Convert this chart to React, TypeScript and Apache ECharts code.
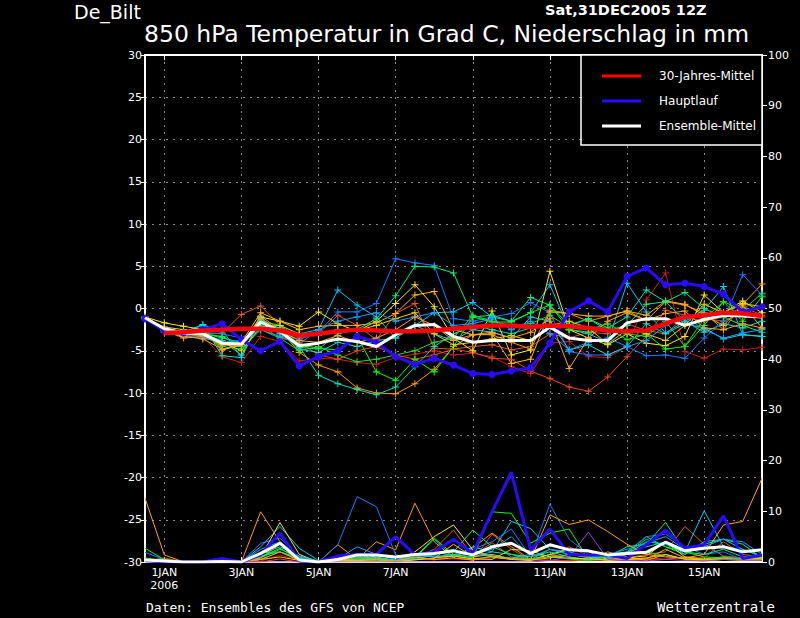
import React, { useEffect, useRef } from "react";
import * as echarts from "echarts";

const FONT = "'DejaVu Sans', sans-serif";
const MONO = "'DejaVu Sans Mono', monospace";

// 12-hourly time steps, 31DEC2005 12Z .. 16JAN2006 12Z
const times = [
  "31DEC12Z", "01JAN00Z", "01JAN12Z", "02JAN00Z", "02JAN12Z", "03JAN00Z", "03JAN12Z", "04JAN00Z", "04JAN12Z", "05JAN00Z", "05JAN12Z",
  "06JAN00Z", "06JAN12Z", "07JAN00Z", "07JAN12Z", "08JAN00Z", "08JAN12Z", "09JAN00Z", "09JAN12Z", "10JAN00Z", "10JAN12Z", "11JAN00Z",
  "11JAN12Z", "12JAN00Z", "12JAN12Z", "13JAN00Z", "13JAN12Z", "14JAN00Z", "14JAN12Z", "15JAN00Z", "15JAN12Z", "16JAN00Z", "16JAN12Z",
];

const tickLabels: Record<string, string> = {
  "01JAN00Z": "1JAN\n2006",
  "03JAN00Z": "3JAN",
  "05JAN00Z": "5JAN",
  "07JAN00Z": "7JAN",
  "09JAN00Z": "9JAN",
  "11JAN00Z": "11JAN",
  "13JAN00Z": "13JAN",
  "15JAN00Z": "15JAN",
};

// 850 hPa temperature, ensemble members (deg C)
const t01 = [-1.1, -2.6, -3.1, -3.3, -5.7, -6.4, -3.3, -3.9, -6.2, -5.9, -6.0,
  -6.4, -6.6, -5.8, -5.4, -5.0, -5.5, -5.3, -5.7, -6.9, -7.7, -4.1,
  -3.9, -5.7, -5.8, -4.5, 1.0, 4.2, -5.1, -5.9, -4.8, -4.9, -4.6];
const t02 = [-1.2, -2.7, -3.2, -3.0, -2.9, -0.7, 0.3, -2.0, -3.5, -3.0, -0.8,
  -2.0, -3.7, -0.6, 0.6, -4.7, -4.8, -4.5, -4.3, -4.9, -4.5, -3.0,
  -3.5, -2.8, -3.0, -1.8, -2.6, -3.0, -1.0, -1.5, -1.0, 0.2, -0.8];
const t03 = [-1.1, -2.5, -2.9, -3.4, -4.0, -4.5, -2.0, -3.5, -4.0, -5.5, -6.0,
  -5.0, -4.5, -5.5, -6.0, -5.5, -4.8, -5.2, -5.9, -6.0, -7.4, -8.3,
  -9.3, -9.8, -8.1, -5.7, -3.3, -0.2, -0.8, -1.2, -1.5, -0.5, -1.0];
const t04 = [-1.1, -2.6, -3.5, -3.3, -4.3, -4.5, -0.9, -2.5, -5.2, -6.7, -7.5,
  -9.4, -10.0, -10.1, -8.9, -7.2, -4.5, -3.1, -3.1, -4.0, -4.8, -0.2,
  -0.6, -1.5, -0.9, -0.3, -1.4, 0.8, 0.4, -0.5, -2.5, 0.5, 2.9];
const t05 = [-1.0, -2.3, -2.8, -1.9, -5.6, -5.8, -1.2, -3.0, -4.5, -7.9, -8.9,
  -9.6, -10.2, -9.3, -6.9, -4.5, -3.0, -2.0, -2.5, -3.0, -2.3, -2.0,
  -2.0, -1.2, -2.3, -1.0, 2.2, 0.8, -1.5, -2.8, -1.8, -2.3, -1.5];
const t06 = [-1.2, -2.5, -3.0, -2.8, -3.0, -3.5, -2.0, -2.7, -3.7, -2.8, -0.4,
  -0.4, 0.6, 5.9, 5.4, 5.1, -1.2, -1.5, -1.0, -0.6, 0.7, -0.5,
  -5.1, -5.5, -5.5, -4.5, -5.6, -5.5, -5.9, -3.5, -1.5, 4.0, 1.6];
const t07 = [-1.1, -2.4, -2.8, -2.0, -2.5, -5.8, -1.0, -3.0, -3.0, -2.5, 2.2,
  0.4, -1.0, -3.5, -2.0, -0.5, -0.4, 0.7, -1.0, -1.5, -0.5, 2.8,
  -2.5, -3.0, -4.0, 3.0, -0.4, -2.9, -1.5, -0.2, 2.6, -3.1, -3.3];
const t08 = [-1.0, -1.7, -2.1, -2.5, -4.9, -4.3, -1.0, -1.5, -2.1, -0.4, -1.8,
  -2.7, -1.5, 0.6, 2.8, 0.2, -3.5, -5.0, -0.3, -5.5, -4.9, 4.4,
  -2.5, -3.5, -4.3, -3.0, -4.1, -4.4, -3.3, 1.6, -0.5, 0.9, -0.5];
const t09 = [-1.1, -2.6, -3.0, -3.2, -4.3, -4.0, -0.5, -1.5, -2.5, -2.1, -2.0,
  -2.0, -1.7, -0.6, 1.6, 2.0, -2.5, -3.1, -3.0, -6.5, -6.0, -0.4,
  -0.6, -0.9, -0.9, -0.3, -0.8, 0.9, 0.5, -0.8, -2.0, 0.4, -2.3];
const t10 = [-1.1, -2.4, -3.0, -3.0, -3.3, -4.5, -1.5, -2.0, -4.3, -4.7, -4.9,
  -3.3, -7.5, -8.5, -6.0, -7.5, -4.5, -1.0, -1.6, -1.6, -0.5, 0.4,
  -2.5, -2.8, -2.3, -3.7, -3.0, -4.8, -4.5, -2.0, 0.8, -1.5, 1.4];
const t11 = [-1.2, -2.6, -3.1, -2.9, -3.5, -4.0, -1.8, -2.3, -4.6, -4.8, -3.0,
  -2.5, -1.2, 1.5, 5.0, 4.9, 4.2, -1.0, -0.8, -1.5, 1.3, 0.4,
  -2.0, -1.2, -2.6, -2.0, 0.5, 0.8, 1.9, 0.0, -1.0, -2.0, -2.8];
const t12 = [-1.1, -2.5, -2.9, -3.0, -3.8, -5.5, -1.4, -2.8, -4.8, -5.2, -4.0,
  -4.5, -3.8, -3.5, -2.0, -3.0, -3.8, -2.5, -2.8, -3.5, -1.0, -1.5,
  -4.9, -4.3, -5.5, -4.5, -1.8, -3.0, -1.8, -2.3, -3.6, -3.1, -3.3];
const t13 = [-1.1, -2.5, -3.0, -3.1, -4.5, -4.8, -2.5, -3.5, -5.0, -4.5, -5.5,
  -6.3, -6.0, -5.5, -5.0, -4.0, -3.5, -0.8, -1.5, -2.0, -1.8, -0.8,
  -2.3, -2.5, -1.8, -3.0, -3.3, -1.5, -4.5, -1.2, 0.8, -0.2, 1.8];
const t14 = [-1.1, -2.2, -2.5, -2.8, -4.0, -5.0, -2.2, -2.0, -3.0, -3.2, -2.5,
  -2.6, -2.0, -1.2, -0.5, -3.0, -4.3, -4.0, -3.6, -3.2, -3.8, -2.0,
  -1.5, -2.3, -4.2, -2.5, -3.0, -3.8, -2.0, 0.5, -0.5, 0.6, 0.2];
const t15 = [-1.2, -2.7, -3.2, -3.5, -4.0, -3.8, -2.5, -3.3, -4.2, -2.5, -1.5,
  -1.0, -0.5, -1.5, -1.0, -0.5, -2.0, -1.8, -1.2, -2.5, -1.5, -3.0,
  -4.9, -4.0, -3.5, -4.5, -3.8, -2.0, -1.0, -2.5, -3.5, -2.9, -2.5];
const t16 = [-1.1, -2.8, -3.3, -3.6, -4.8, -4.3, -1.2, -2.6, -3.8, -4.0, -3.2,
  -4.0, -3.5, -2.5, -1.0, -2.0, -3.8, -3.1, -2.8, -3.5, -2.8, -1.2,
  -7.1, -3.5, -1.5, -0.5, -1.4, -0.6, -0.3, -2.3, -2.5, -1.8, -2.3];

// 12-hour precipitation, ensemble members (mm)
const p01 = [0.3, 0.2, 0, 0, 0, 0, 0.2, 1.4, 0.3, 0, 0.3,
  0.6, 0.4, 0.2, 0.8, 0.5, 0.6, 0.4, 0.8, 0.6, 0.5, 0.4,
  0.3, 1.0, 0.4, 0.3, 0.5, 0.6, 0.8, 0.4, 0.6, 0.3, 0.4];
const p02 = [0.5, 0.4, 0, 0, 0, 0, 0.5, 2.0, 0.5, 0, 0.8,
  1.5, 0.6, 0.3, 1.0, 2.5, 6.3, 1.2, 3.8, 1.0, 0.6, 1.0,
  3.0, 1.2, 0.5, 0.8, 1.5, 2.0, 7.0, 3.5, 1.2, 0.8, 0.5];
const p03 = [0.2, 0.8, 0, 0, 0, 0, 0, 0.6, 0, 0, 0.2,
  0.5, 0.5, 0, 0.8, 0.4, 1.2, 0.3, 5.5, 2.5, 0.4, 0.3,
  0.2, 0.4, 0.3, 0.6, 0.8, 0.5, 1.0, 0.8, 4.0, 1.5, 1.0];
const p04 = [0.2, 0.5, 0, 0, 0, 0, 9.9, 4.0, 0.4, 0, 3.4,
  0.5, 4.0, 2.4, 11.6, 4.0, 0.8, 2.8, 5.7, 3.0, 0.5, 1.5,
  0.8, 0.5, 2.0, 1.0, 0.3, 1.5, 0.5, 0.2, 0.5, 0.3, 0.5];
const p05 = [0.3, 0.2, 0, 0, 0, 0, 0.8, 2.5, 1.0, 0, 0.5,
  1.5, 1.0, 0.3, 0.8, 4.5, 1.0, 3.0, 2.0, 1.5, 0.5, 2.5,
  1.5, 1.0, 0.8, 2.0, 5.0, 3.0, 1.5, 3.5, 4.5, 3.5, 0.8];
const p06 = [1.9, 0.5, 0, 0, 0.7, 0, 3.7, 4.7, 1.0, 0, 3.4,
  12.9, 10.9, 1.4, 0.5, 0.8, 1.5, 2.5, 4.0, 6.5, 1.0, 11.4,
  4.5, 1.5, 0.5, 2.0, 5.0, 5.5, 3.0, 1.5, 2.0, 0.5, 0.3];
const p07 = [0.2, 0.1, 0, 0, 0, 0, 3.0, 7.0, 2.7, 0.3, 0.5,
  1.0, 0.5, 0.2, 1.5, 1.0, 1.5, 1.0, 2.0, 8.0, 6.6, 2.5,
  2.0, 1.0, 0.8, 1.5, 4.0, 3.5, 2.0, 10.1, 3.0, 2.5, 1.0];
const p08 = [0.3, 0.2, 0, 0, 0, 0, 1.0, 7.8, 1.5, 0, 0.2,
  0.5, 0.8, 0.3, 2.0, 5.0, 7.3, 2.4, 1.0, 0.5, 0.3, 1.5,
  2.5, 2.0, 0.5, 0.8, 1.2, 4.0, 1.0, 0.5, 0.8, 0.5, 0.3];
const p09 = [0.4, 0.3, 0, 0, 0, 0, 0.8, 3.5, 0.6, 0, 0.6,
  0.3, 0.8, 0.2, 0.5, 0.7, 3.5, 1.0, 1.5, 0.6, 0.4, 0.8,
  1.5, 0.9, 0.3, 0.5, 0.6, 2.5, 0.8, 0.6, 1.0, 0.5, 0.8];
const p10 = [2.7, 0.5, 0, 0, 0, 0, 1.0, 2.7, 0.5, 0, 0.4,
  0.8, 0.6, 0.3, 1.0, 4.7, 1.5, 0.8, 9.9, 9.6, 3.7, 5.7,
  6.5, 0.5, 1.2, 1.8, 4.5, 3.0, 2.0, 1.0, 0.8, 0.4, 1.0];
const p11 = [0.5, 0.2, 0, 0, 0, 0, 1.2, 2.0, 0.8, 0, 0.3,
  0.6, 0.5, 0.2, 0.5, 1.5, 2.0, 6.3, 3.0, 1.5, 1.0, 2.0,
  1.0, 0.5, 1.0, 3.0, 3.5, 7.8, 2.0, 1.5, 2.5, 1.0, 1.5];
const p12 = [0.2, 0.2, 0, 0, 0, 0, 1.5, 3.0, 1.2, 0.2, 0.5,
  1.0, 0.8, 0.4, 0.8, 1.2, 1.0, 1.8, 1.2, 0.8, 1.5, 1.2,
  0.8, 0.5, 1.5, 2.0, 3.0, 4.0, 1.5, 4.0, 4.5, 2.5, 1.2];
const p13 = [0.8, 0.3, 0, 0, 0, 0, 1.8, 2.0, 0.4, 0, 0.3,
  0.5, 0.4, 0.2, 0.8, 2.0, 1.2, 0.6, 1.0, 0.7, 0.6, 1.0,
  0.6, 0.3, 0.6, 1.5, 2.0, 1.2, 0.6, 0.4, 1.0, 0.6, 0.8];
const p14 = [0.1, 0.1, 0, 0, 0, 0, 0.5, 1.0, 0.3, 0, 0.2,
  0.3, 0.2, 0.1, 0.4, 0.8, 1.2, 0.6, 0.5, 2.5, 2.2, 1.0,
  0.8, 0.6, 0.4, 0.5, 0.8, 1.5, 0.6, 0.4, 0.6, 0.4, 0.8];
const p15 = [0.3, 0.2, 0, 0, 0, 0, 2.5, 4.0, 1.0, 0, 0.6,
  3.0, 1.5, 0.5, 1.0, 1.5, 2.5, 1.5, 2.5, 5.0, 1.0, 2.5,
  1.5, 1.0, 1.5, 2.5, 3.8, 5.0, 2.5, 3.0, 4.5, 4.0, 1.5];
const p16 = [12.6, 1.4, 0, 0, 0, 0, 0.5, 2.0, 0.3, 0, 0.6,
  0.4, 0.5, 0.2, 1.0, 0.5, 0.8, 0.4, 1.2, 0.6, 0.5, 9.3,
  7.4, 8.3, 6.0, 3.5, 1.5, 1.0, 0.8, 1.5, 7.3, 8.0, 16.5];
const pPurple = [0, 0, 0, 0, 0, 0, 0, 0, 0, 0, 0,
  0, 0, 0, 0, 0, 0, 0, 0, 0, 0, 0.3,
  1.0, 5.9, 0.5, 0.3, 0.2, 0.5, 0.3, 0.2, 0.5, 0.4, 0.3];

// Hauptlauf (operational run)
const mainTemp = [-1.2, -2.6, -2.9, -2.5, -1.8, -3.7, -5.0, -3.9, -6.8, -5.7, -5.0,
  -3.3, -4.0, -5.7, -6.6, -5.9, -6.7, -7.7, -7.8, -7.4, -7.0, -4.1,
  -0.4, 0.9, -0.4, 3.8, 4.8, 2.8, 3.0, 2.6, 1.7, -0.4, 0.2];
const mainPrecip = [0.3, 0, 0, 0, 0.7, 0, 1.4, 5.7, 0.2, 0, 1.2,
  1.5, 1.5, 5.0, 1.4, 2.0, 4.5, 1.7, 9.9, 17.7, 2.4, 6.5,
  1.5, 1.4, 1.4, 0.7, 3.4, 6.3, 2.7, 3.4, 9.1, 0.7, 1.4];

// Ensemble-Mittel
const meanTemp = [-1.1, -2.4, -2.9, -3.0, -4.1, -4.2, -1.6, -2.7, -4.4, -4.1, -3.6,
  -3.9, -4.5, -3.1, -2.0, -1.9, -3.3, -4.0, -3.8, -3.8, -3.8, -2.2,
  -3.5, -3.8, -3.8, -1.7, -1.2, -1.2, -2.0, -1.3, -0.8, -0.9, -1.0];
const meanPrecip = [0.4, 0.2, 0, 0, 0.1, 0, 1.7, 3.7, 0.4, 0, 0.5,
  1.4, 1.4, 1.0, 1.5, 1.7, 2.2, 1.4, 3.0, 3.7, 1.7, 3.4,
  2.4, 2.2, 1.4, 1.7, 1.9, 3.9, 2.2, 2.7, 3.0, 2.0, 2.4];

// 30-Jahres-Mittel
const climTemp = [null, -2.9, -2.8, -2.6, -2.5, -2.4, -2.4, -2.6, -3.2, -3.0, -2.7,
  -2.5, -2.6, -2.7, -2.7, -2.6, -2.4, -2.2, -2.0, -2.0, -2.2, -2.0,
  -2.1, -2.3, -2.6, -2.7, -2.6, -1.8, -1.0, -0.8, -0.5, -0.6, -0.9];

const memberColors = ["#c81e1e", "#e0562a", "#e84a1a", "#ff9a00", "#00e6b4", "#1e78ff", "#00c8ff", "#ffe61e",
  "#ffb41e", "#00ff00", "#00f078", "#1ed2d2", "#32d232", "#f0d200", "#14a0ff", "#ffa028"];
const memberTemps = [t01, t02, t03, t04, t05, t06, t07, t08, t09, t10, t11, t12, t13, t14, t15, t16];
const memberPrecips = [p01, p02, p03, p04, p05, p06, p07, p08, p09, p10, p11, p12, p13, p14, p15, p16];

const legendItems = ["30-Jahres-Mittel", "Hauptlauf", "Ensemble-Mittel"];

const RED = "#ff0000";
const BLUE = "#2a0aff";
const WHITE = "#ffffff";
const GRID = "#8c8c8c";

const PLUS = "path://M3,0h1v3h3v1h-3v3h-1v-3h-3v-1h3z";

const isTick = (i: number) => tickLabels[times[i]] !== undefined;

export default function App() {
  const ref = useRef<HTMLDivElement>(null);
  useEffect(() => {
    if (!ref.current) return;
    const chart = echarts.init(ref.current, null, { renderer: "svg" });

    const series: any[] = [];
    memberPrecips.forEach((p, k) => {
      series.push({
        type: "line", name: "P" + (k + 1), data: p, xAxisIndex: 0, yAxisIndex: 1,
        symbol: "none", lineStyle: { color: memberColors[k], width: 1 }, z: 2, silent: true,
      });
    });
    series.push({
      type: "line", name: "Ppurple", data: pPurple, xAxisIndex: 0, yAxisIndex: 1,
      symbol: "none", lineStyle: { color: "#a040e0", width: 1 }, z: 2, silent: true,
    });
    memberTemps.forEach((t, k) => {
      series.push({
        type: "line", name: "T" + (k + 1), data: t, xAxisIndex: 0, yAxisIndex: 0,
        symbol: PLUS, symbolSize: 7, showSymbol: true, showAllSymbol: true,
        itemStyle: { color: memberColors[k] },
        lineStyle: { color: memberColors[k], width: 1 }, z: 2, silent: true,
      });
    });
    series.push({
      type: "line", name: "HauptlaufP", data: mainPrecip, xAxisIndex: 0, yAxisIndex: 1,
      symbol: "none", lineStyle: { color: BLUE, width: 3 }, z: 3, silent: true,
    });
    series.push({
      type: "line", name: legendItems[1], data: mainTemp, xAxisIndex: 0, yAxisIndex: 0,
      symbol: "circle", symbolSize: 7, showSymbol: true, showAllSymbol: true,
      itemStyle: { color: BLUE }, lineStyle: { color: BLUE, width: 3 }, z: 3, silent: true,
    });
    series.push({
      type: "line", name: "MittelP", data: meanPrecip, xAxisIndex: 0, yAxisIndex: 1,
      symbol: "none", lineStyle: { color: WHITE, width: 3 }, z: 4, silent: true,
    });
    series.push({
      type: "line", name: legendItems[2], data: meanTemp, xAxisIndex: 0, yAxisIndex: 0,
      symbol: "none", lineStyle: { color: WHITE, width: 3 }, z: 4, silent: true,
    });
    series.push({
      type: "line", name: legendItems[0], data: climTemp, xAxisIndex: 0, yAxisIndex: 0,
      symbol: "none", lineStyle: { color: RED, width: 4.5 }, z: 5, silent: true,
    });

    const txt = (text: string, x: number, y: number, font: string, align = "left") => ({
      type: "text", z: 110, silent: true,
      style: { text, x, y, fill: "#fff", font, align, textAlign: align, verticalAlign: "middle", textVerticalAlign: "middle" },
    });

    const legendY = [76, 101, 126];
    const legendColors = [RED, BLUE, WHITE];

    const option: any = {
      animation: false,
      backgroundColor: "#000",
      grid: { left: 145, right: 38, top: 55, bottom: 56, show: false },
      xAxis: [
        {
          type: "category", data: times, boundaryGap: false, position: "bottom",
          axisLine: { show: true, onZero: false, lineStyle: { color: "#fff", width: 2 } },
          axisTick: { show: true, inside: true, length: 5, interval: (i: number) => isTick(i), lineStyle: { color: "#fff" } },
          axisLabel: {
            interval: (i: number) => isTick(i),
            formatter: (v: string) => tickLabels[v] ?? "",
            color: "#fff", fontSize: 11, fontFamily: FONT, margin: 4, lineHeight: 13,
          },
          splitLine: { show: true, interval: (i: number) => isTick(i), lineStyle: { color: GRID, type: [2, 5], width: 1 } },
        },
        {
          type: "category", data: times, boundaryGap: false, position: "top",
          axisLine: { show: true, onZero: false, lineStyle: { color: "#fff", width: 2 } },
          axisTick: { show: true, inside: true, length: 5, interval: (i: number) => isTick(i), lineStyle: { color: "#fff" } },
          axisLabel: { show: false },
          splitLine: { show: false },
        },
      ],
      yAxis: [
        {
          type: "value", min: -30, max: 30, interval: 5, position: "left",
          axisLine: { show: true, onZero: false, lineStyle: { color: "#fff", width: 2 } },
          axisTick: { show: true, length: 4, lineStyle: { color: "#fff" } },
          axisLabel: { color: "#fff", fontSize: 11, fontFamily: FONT, margin: 3 },
          splitLine: { show: true, lineStyle: { color: GRID, type: [2, 5], width: 1 } },
        },
        {
          type: "value", min: 0, max: 100, interval: 10, position: "right",
          axisLine: { show: true, onZero: false, lineStyle: { color: "#fff", width: 2 } },
          axisTick: { show: true, length: 5, lineStyle: { color: "#fff" } },
          axisLabel: { color: "#fff", fontSize: 11, fontFamily: FONT, margin: 6 },
          splitLine: { show: false },
        },
      ],
      series,
      graphic: [
        txt("De_Bilt", 74, 12, `19px ${FONT}`),
        txt("Sat,31DEC2005 12Z", 545, 10, `bold 14.5px ${FONT}`),
        txt("850 hPa Temperatur in Grad C, Niederschlag in mm", 144, 33.5, `23.5px ${FONT}`),
        txt("Daten: Ensembles des GFS von NCEP", 146, 607, `13px ${MONO}`),
        txt("Wetterzentrale", 775, 607, `14px ${MONO}`, "right"),
        {
          type: "rect", z: 100, silent: true,
          shape: { x: 581, y: 55, width: 181, height: 90 },
          style: { fill: "#000", stroke: "#fff", lineWidth: 1.5 },
        },
        ...legendItems.map((name, k) => ({
          type: "line", z: 105, silent: true,
          shape: { x1: 602, y1: legendY[k], x2: 641, y2: legendY[k] },
          style: { stroke: legendColors[k], lineWidth: 3 },
        })),
        ...legendItems.map((name, k) => txt(name, 659, legendY[k], `12px ${FONT}`)),
      ],
    };
    chart.setOption(option);
    return () => chart.dispose();
  }, []);
  return <div ref={ref} style={{ position: "fixed", left: 0, top: 0, width: 800, height: 618, background: "#000" }} />;
}
